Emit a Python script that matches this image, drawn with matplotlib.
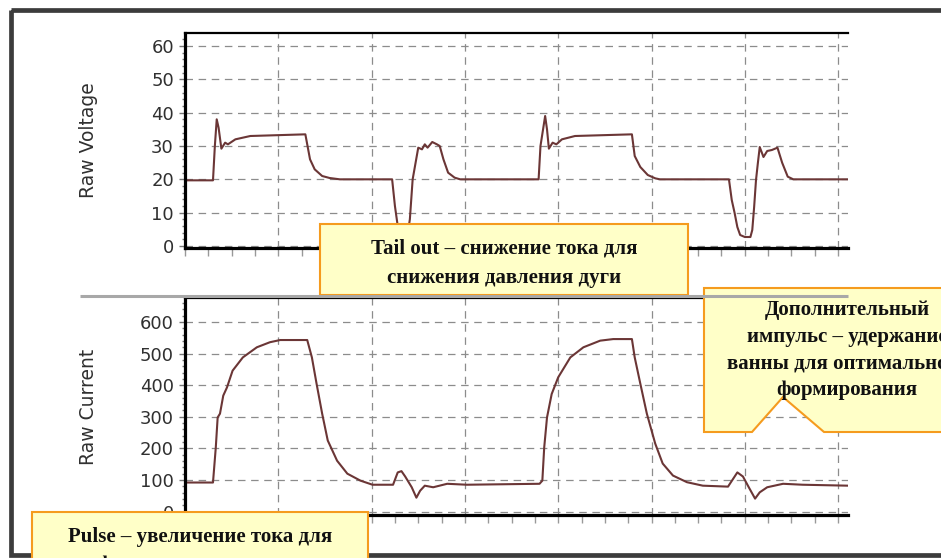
import matplotlib

matplotlib.use("Agg")
import matplotlib.pyplot as plt
from matplotlib.patches import Polygon, Rectangle
from matplotlib.ticker import AutoMinorLocator, MultipleLocator

# time axis in grid divisions
volt_t = [0.00, 0.30, 0.32, 0.34, 0.36, 0.39, 0.43, 0.46, 0.54, 0.70,
          1.29, 1.34, 1.39, 1.47, 1.55, 1.66,
          2.22, 2.25, 2.28, 2.32, 2.38, 2.41, 2.44, 2.50, 2.54, 2.57,
          2.60, 2.65, 2.70, 2.73, 2.77, 2.82, 2.89, 2.95,
          3.79, 3.81, 3.86, 3.88, 3.90, 3.94, 3.98, 4.04, 4.18,
          4.79, 4.82, 4.88, 4.96, 5.04, 5.09,
          5.83, 5.86, 5.89, 5.92, 5.95, 6.00, 6.06, 6.08, 6.10, 6.12,
          6.14, 6.16, 6.20, 6.24, 6.29, 6.35, 6.40, 6.46, 6.52, 7.11]
volt_v = [19.7, 19.7, 30.0, 38.0, 35.5, 29.2, 31.0, 30.5, 32.0, 33.0,
          33.5, 26.0, 23.0, 21.0, 20.4, 20.0,
          20.0, 12.0, 6.0, 2.5, 2.5, 8.0, 20.0, 29.5, 29.0, 30.5,
          29.5, 31.2, 30.5, 30.0, 26.0, 22.0, 20.5, 20.0,
          20.0, 30.0, 39.0, 35.0, 29.2, 31.0, 30.5, 32.0, 33.0,
          33.5, 27.0, 23.7, 21.3, 20.3, 20.0,
          20.0, 13.8, 10.0, 5.7, 3.3, 2.7, 2.7, 4.8, 11.7, 19.8,
          24.9, 29.7, 26.7, 28.5, 28.8, 29.5, 25.0, 20.8, 20.0, 20.0]

curr_t = [0.00, 0.30, 0.33, 0.35, 0.375, 0.41, 0.45, 0.51, 0.62, 0.77,
          0.91, 1.02, 1.31, 1.36, 1.41, 1.47, 1.53, 1.63, 1.74, 1.88,
          2.01, 2.23, 2.28, 2.32, 2.36, 2.43, 2.48, 2.52, 2.57, 2.66,
          2.81, 3.02, 3.80, 3.83, 3.85, 3.88, 3.93, 4.00, 4.13, 4.27,
          4.45, 4.59, 4.79, 4.82, 4.88, 4.95, 5.04, 5.12, 5.23, 5.38,
          5.55, 5.82, 5.92, 5.98, 6.05, 6.11, 6.16, 6.24, 6.41, 6.62,
          7.11]
curr_a = [92, 92, 203, 298, 310, 367, 393, 446, 488, 520,
          536, 543, 543, 488, 405, 310, 225, 161, 120, 98,
          85, 85, 124, 128, 111, 77, 44, 66, 82, 77,
          88, 85, 88, 98, 203, 298, 372, 425, 488, 520,
          541, 546, 546, 488, 405, 310, 215, 152, 114, 93,
          82, 79, 124, 111, 73, 41, 61, 77, 88, 85,
          82]

volt_ticks = [0, 10, 20, 30, 40, 50, 60]
curr_ticks = [0, 100, 200, 300, 400, 500, 600]

tail_text = "Tail out – снижение тока для\nснижения давления дуги"
extra_text = ("Дополнительный\nимпульс – удержание\n"
              "ванны для оптимального\nформирования")
pulse_text = "Pulse – увеличение тока для\nформирования капли"

W, H = 941, 558
LINE = "#6b3636"
GRID = "#8c8c8c"
BOX_FILL = "#ffffc8"
BOX_EDGE = "#f59b1e"


def style_axes(ax, ticks, ylim, label):
    ax.set_xlim(0, 7.106)
    ax.set_ylim(*ylim)
    ax.set_yticks(ticks)
    ax.yaxis.set_minor_locator(AutoMinorLocator(5))
    ax.xaxis.set_major_locator(MultipleLocator(1))
    ax.xaxis.set_minor_locator(MultipleLocator(0.25))
    ax.grid(True, which="major", color=GRID, lw=0.9, ls=(0, (6, 4.5)))
    ax.tick_params(axis="y", which="major", length=4, width=1, color="#777777",
                   labelsize=13, labelcolor="#303030", pad=4)
    ax.tick_params(axis="y", which="minor", length=2, width=1, color="#777777")
    ax.tick_params(axis="x", which="both", length=6, width=1, color="#999999",
                   labelbottom=False)
    ax.spines["right"].set_visible(False)
    ax.spines["left"].set_linewidth(2.3)
    ax.spines["bottom"].set_linewidth(2.3)
    ax.spines["top"].set_linewidth(1.6)
    ax.set_ylabel(label, fontsize=13.5, color="#303030")
    ax.yaxis.set_label_coords(-0.131, 0.5)


fig = plt.figure(figsize=(W / 100, H / 100), dpi=100)

ax_v = fig.add_axes([185 / W, 1 - 248 / H, 663 / W, 215 / H])
ax_v.plot(volt_t, volt_v, color=LINE, lw=1.5)
style_axes(ax_v, volt_ticks, (-0.6, 63.9), "Raw Voltage")

ax_i = fig.add_axes([185 / W, 1 - 515 / H, 663 / W, 217 / H])
ax_i.plot(curr_t, curr_a, color=LINE, lw=1.5)
style_axes(ax_i, curr_ticks, (-10.8, 676), "Raw Current")

# slide layer in pixel coordinates: frame, divider and callouts
over = fig.add_axes([0, 0, 1, 1], zorder=10)
over.set_xlim(0, W)
over.set_ylim(H, 0)
over.axis("off")
over.patch.set_visible(False)

over.add_patch(Rectangle((11, 9.5), 980, 545.5, fill=False, ec="#3c3c3c", lw=3.4))
over.plot([80, 848], [295.5, 295.5], color="#a8a8a8", lw=2.2, solid_capstyle="butt")

callout_font = dict(family="Liberation Serif", weight="bold", size=15,
                    color="#111111", ha="center", va="center")

over.add_patch(Polygon([(400, 297), (510, 287), (482, 293)], closed=True,
                       fc=BOX_FILL, ec=BOX_EDGE, lw=1.3))
over.add_patch(Rectangle((320, 224), 368, 71, fc=BOX_FILL, ec=BOX_EDGE, lw=1.5))
over.text(504, 263, tail_text, linespacing=1.6, **callout_font)

over.add_patch(Polygon([(704, 288), (990, 288), (990, 432), (824, 432), (783, 397),
                        (752, 432), (704, 432)], closed=True,
                       fc=BOX_FILL, ec=BOX_EDGE, lw=1.5))
over.text(847, 350, extra_text, linespacing=1.45, **callout_font)

over.add_patch(Rectangle((32, 512), 336, 80, fc=BOX_FILL, ec=BOX_EDGE, lw=1.5))
over.text(200, 551, pulse_text, linespacing=1.5, **callout_font)

fig.savefig("out.png", dpi=100)
